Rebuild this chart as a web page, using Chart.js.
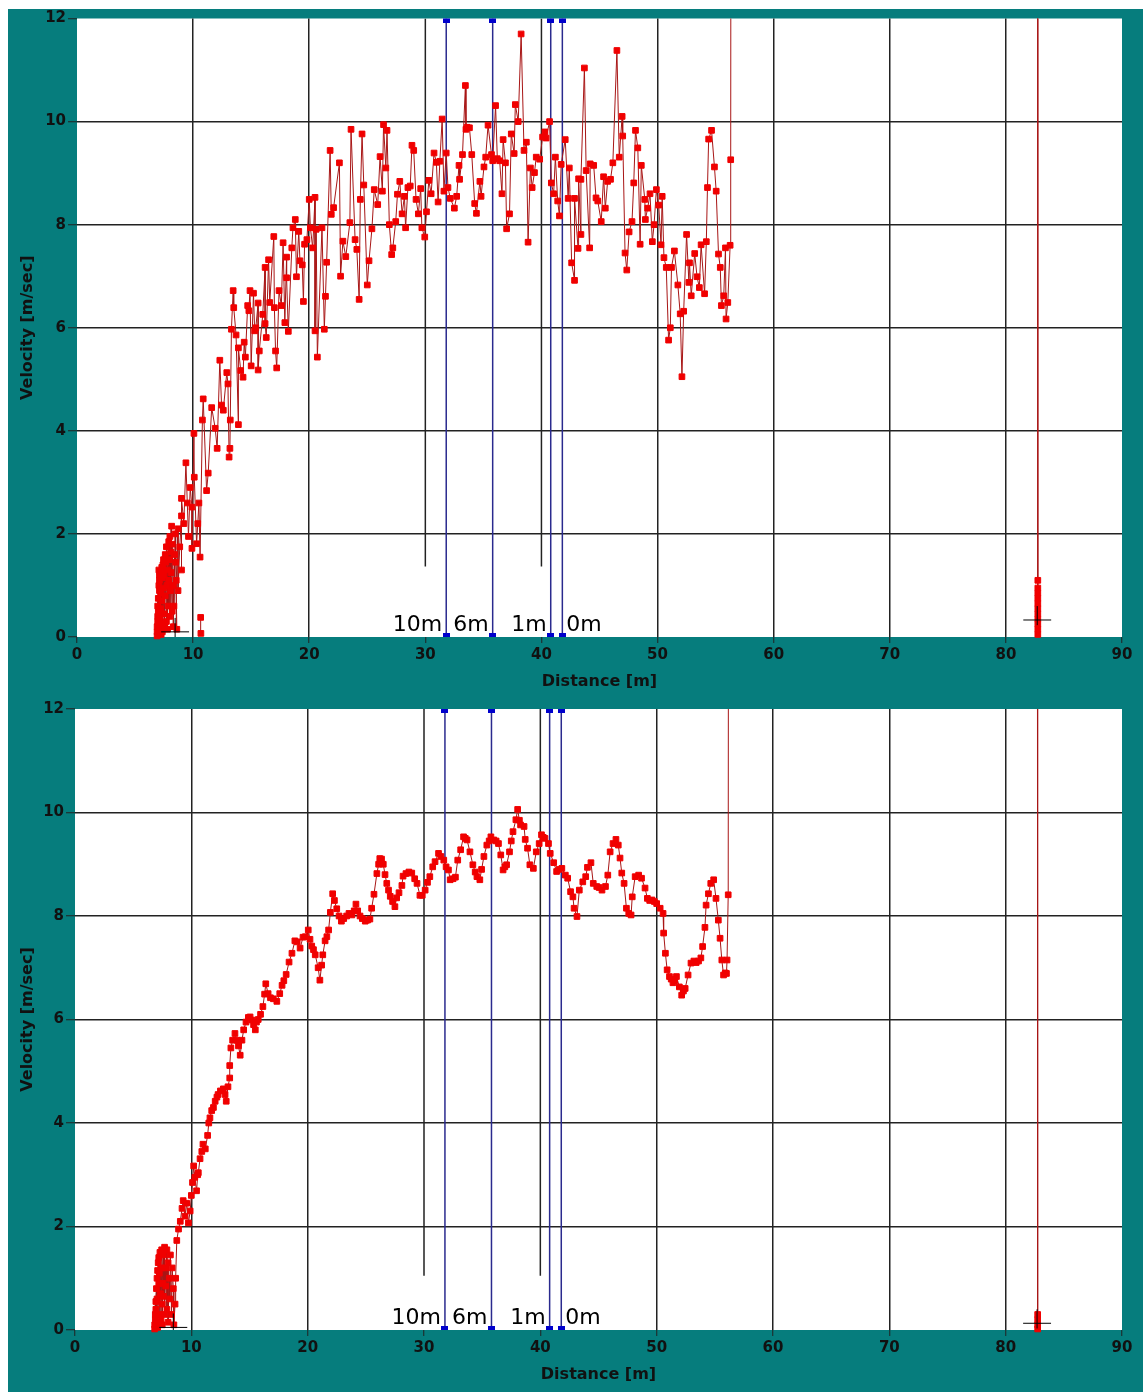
<!DOCTYPE html>
<html>
<head>
<meta charset="utf-8">
<title>Velocity vs distance</title>
<script src="https://cdn.jsdelivr.net/npm/chart.js@4.4.1/dist/chart.umd.min.js"></script>
<style>
    body { margin: 0; background: #fff; width: 1143px; height: 1392px; overflow: hidden; }
    #frame { position: absolute; left: 8px; top: 9px; width: 1135px; height: 1383px; background: #067d7d; }
    #top-chart { position: absolute; left: 0; top: 0; }
    #bottom-chart { position: absolute; left: 0; top: 690px; }
</style>
</head>
<body>
<div id="frame">
    <canvas id="top-chart" width="1135" height="690"></canvas>
    <canvas id="bottom-chart" width="1135" height="693"></canvas>
</div>
<script>
// raw velocity track (upper panel)
const topDist = [6.9, 6.95, 6.9, 7.0, 6.9, 7.0, 6.95, 7.05, 6.95, 7.1, 7.0, 7.1, 7.05, 7.15, 7.1, 7.2, 7.15, 7.25, 7.2, 7.3, 7.25, 7.35, 7.3, 7.4, 7.35, 7.45, 7.4, 7.5, 7.45, 7.55, 7.5, 7.6, 7.6, 7.7, 7.65, 7.75, 7.7, 7.8, 7.8, 7.9, 7.85, 7.95, 7.9, 8.0, 8.0, 8.1, 8.05, 8.15, 8.1, 8.2, 8.2, 8.3, 8.3, 8.4, 8.35, 8.45, 8.5, 8.6, 8.55, 8.7, 8.7, 8.85, 9.0, 9.0, 9.0, 9.2, 9.38, 9.5, 9.6, 9.75, 9.9, 9.9, 10.07, 10.1, 10.3, 10.4, 10.5, 10.6,
    10.8, 10.87, 11.16, 11.3, 11.6, 11.9, 12.07, 12.3, 12.45, 12.6, 12.9, 13.0, 13.1, 13.17, 13.2, 13.3, 13.45, 13.5, 13.7, 13.9, 13.9, 14.1, 14.3, 14.4, 14.5, 14.7, 14.8, 14.9, 15.0, 15.2, 15.3, 15.4, 15.6, 15.6, 15.7, 16.0, 16.2, 16.2, 16.3, 16.5, 16.6, 16.95, 17.0, 17.1, 17.2, 17.4, 17.6, 17.75, 17.9, 18.05, 18.05, 18.2, 18.5, 18.6, 18.8, 18.9, 19.1, 19.2, 19.4, 19.5, 19.6, 19.8,
    20.0, 20.1, 20.3, 20.5, 20.5, 20.6, 20.7, 21.1, 21.3, 21.4, 21.5, 21.8, 21.9, 22.1, 22.6, 22.7, 22.9, 23.15, 23.5, 23.6, 23.95, 24.1, 24.3, 24.4, 24.55, 24.7, 25.0, 25.15, 25.4, 25.6, 25.9, 26.1, 26.3, 26.4, 26.6, 26.7, 26.9, 27.1, 27.2, 27.45, 27.6, 27.8, 28.0, 28.2, 28.3, 28.5, 28.7, 28.85, 29.0, 29.2, 29.4, 29.6, 29.7, 29.95,
    30.1, 30.3, 30.5, 30.75, 30.95, 31.1, 31.25, 31.45, 31.6, 31.8, 31.95, 32.15, 32.5, 32.7, 32.9, 32.95, 33.2, 33.45, 33.5, 33.6, 33.8, 34.0, 34.25, 34.4, 34.7, 34.8, 35.05, 35.2, 35.4, 35.7, 35.8, 36.05, 36.2, 36.4, 36.6, 36.7, 36.9, 37.0, 37.25, 37.4, 37.65, 37.75, 38.0, 38.25, 38.5, 38.7, 38.85, 39.05, 39.2, 39.4, 39.55, 39.85,
    40.1, 40.3, 40.4, 40.7, 40.85, 41.05, 41.2, 41.4, 41.55, 41.7, 42.05, 42.3, 42.4, 42.6, 42.85, 42.85, 43.15, 43.2, 43.4, 43.4, 43.7, 43.85, 44.15, 44.2, 44.5, 44.7, 44.85, 45.15, 45.35, 45.5, 45.7, 45.95, 46.15, 46.5, 46.7, 46.95, 47.0, 47.2, 47.35, 47.55, 47.8, 47.95, 48.1, 48.3, 48.5, 48.6, 48.9, 48.95, 49.15, 49.35, 49.55, 49.7, 49.9,
    50.1, 50.3, 50.4, 50.55, 50.75, 50.95, 51.1, 51.2, 51.45, 51.75, 51.95, 52.1, 52.25, 52.5, 52.7, 52.75, 52.9, 53.2, 53.4, 53.6, 53.75, 54.05, 54.2, 54.3, 54.4, 54.65, 54.9, 55.05, 55.25, 55.4, 55.5, 55.7, 55.85, 55.9, 56.05, 56.25, 56.3,
    56.4, 82.7, 82.75, 82.75, 82.75, 82.75, 82.75, 82.75, 82.75, 82.75, 82.75, 82.75, 82.75];
const topVel = [0.02, 0.3, 0.1, 0.5, 0.2, 0.75, 0.4, 1.0, 0.6, 1.2, 0.15, 0.9, 1.3, 0.35, 1.1, 0.55, 1.25, 0.05, 0.85, 1.35, 0.25, 1.15, 0.7, 1.4, 0.1, 0.95, 1.3, 0.45, 1.5, 0.2, 1.2, 0.8, 1.6, 0.3, 1.45, 1.0, 1.75, 0.15, 1.3, 1.85, 0.6, 1.5, 1.1, 1.95, 0.4, 1.65, 0.9, 2.15, 1.25, 0.5, 1.8, 1.0, 0.2, 1.6, 0.6, 2.0, 1.45, 0.15, 1.1, 2.1, 0.9, 1.75, 2.35, 1.3, 2.69, 2.2, 3.38, 2.6, 1.95, 2.9, 2.52, 1.72, 3.95, 3.1, 1.81, 2.2, 2.6, 1.55,
    4.21, 4.62, 2.84, 3.18, 4.45, 4.05, 3.66, 5.37, 4.5, 4.4, 5.13, 4.91, 3.49, 3.66, 4.21, 5.97, 6.72, 6.39, 5.86, 4.12, 5.61, 5.17, 5.04, 5.72, 5.43, 6.43, 6.33, 6.72, 5.26, 6.67, 5.94, 6.0, 6.48, 5.18, 5.55, 6.26, 7.17, 6.08, 5.81, 7.32, 6.49, 7.77, 6.39, 5.55, 5.22, 6.72, 6.43, 7.65, 6.1, 7.37, 6.97, 5.93, 7.55, 7.94, 8.1, 6.99, 7.87, 7.3, 7.22, 6.51, 7.62, 7.71,
    8.49, 7.94, 7.55, 8.53, 5.94, 7.91, 5.43, 7.94, 5.97, 6.61, 7.27, 9.44, 8.2, 8.33, 9.2, 7.0, 7.68, 7.38, 8.04, 9.85, 7.71, 7.52, 6.55, 8.49, 9.76, 8.77, 6.83, 7.3, 7.92, 8.68, 8.39, 9.32, 8.65, 9.94, 9.1, 9.83, 8.0, 7.42, 7.55, 8.06, 8.59, 8.84, 8.21, 8.55, 7.94, 8.72, 8.75, 9.54, 9.44, 8.49, 8.21, 8.7, 7.94, 7.76,
    8.25, 8.86, 8.6, 9.39, 9.21, 8.44, 9.23, 10.05, 8.65, 9.39, 8.72, 8.51, 8.32, 8.55, 9.15, 8.88, 9.36, 10.7, 9.85, 9.89, 9.88, 9.36, 8.41, 8.22, 8.84, 8.55, 9.12, 9.31, 9.93, 9.36, 9.24, 10.31, 9.28, 9.24, 8.6, 9.65, 9.2, 7.92, 8.21, 9.76, 9.38, 10.33, 10.0, 11.7, 9.44, 9.6, 7.66, 9.1, 8.72, 9.01, 9.31, 9.27,
    9.7, 9.8, 9.68, 10.0, 8.81, 8.6, 9.31, 8.46, 8.17, 9.17, 9.65, 8.51, 9.1, 7.26, 6.92, 8.51, 7.54, 8.89, 7.81, 8.88, 11.04, 9.05, 7.55, 9.18, 9.15, 8.52, 8.46, 8.06, 8.93, 8.32, 8.84, 8.88, 9.2, 11.38, 9.31, 10.1, 9.72, 7.45, 7.12, 7.86, 8.06, 8.81, 9.83, 9.49, 7.62, 9.15, 8.49, 8.1, 8.32, 8.6, 7.67, 8.0, 8.68,
    8.38, 7.61, 8.55, 7.36, 7.17, 5.76, 6.0, 7.17, 7.49, 6.83, 6.27, 5.05, 6.32, 7.81, 6.88, 7.26, 6.62, 7.44, 6.99, 6.78, 7.61, 6.66, 7.67, 8.72, 9.66, 9.83, 9.12, 8.65, 7.43, 7.17, 6.43, 6.62, 7.55, 6.17, 6.49, 7.6, 9.26,
    40, 40, 1.1, 0.95, 0.85, 0.75, 0.65, 0.55, 0.45, 0.35, 0.25, 0.15, 0.05];
// two stray samples near 10.6 m, not joined to the track
const topStrayDist = [10.67, 10.65];
const topStrayVel = [0.07, 0.38];

// smoothed velocity track (lower panel)
const botDist = [6.85, 6.9, 6.85, 6.95, 6.9, 7.0, 6.95, 7.05, 7.0, 7.1, 7.05, 7.15, 7.1, 7.2, 7.2, 7.3, 7.25, 7.35, 7.3, 7.4, 7.4, 7.5, 7.45, 7.55, 7.5, 7.6, 7.6, 7.7, 7.7, 7.8, 7.8, 7.9, 7.9, 8.0, 8.0, 8.1, 8.15, 8.2, 8.3, 8.35, 8.45, 8.5, 8.6, 8.65,
    8.75, 8.9, 9.05, 9.2, 9.3, 9.45, 9.6, 9.75, 9.9, 10.0, 10.1, 10.2, 10.3, 10.45, 10.55, 10.6, 10.75, 10.9, 11.0, 11.2, 11.4, 11.5, 11.6, 11.75, 11.9, 12.05, 12.2, 12.3, 12.5, 12.75, 12.9, 13.0, 13.15, 13.3, 13.3, 13.4, 13.55, 13.75, 13.9, 14.05, 14.2, 14.35, 14.5, 14.7, 14.9, 15.05, 15.2, 15.35, 15.5, 15.6, 15.75, 15.95, 16.15, 16.3, 16.4, 16.6, 16.8, 17.05, 17.35, 17.6, 17.8, 17.95, 18.15, 18.4, 18.65, 18.9, 19.1, 19.35, 19.6, 19.8,
    20.05, 20.2, 20.35, 20.5, 20.65, 20.9, 21.05, 21.2, 21.3, 21.5, 21.65, 21.8, 21.95, 22.15, 22.3, 22.5, 22.7, 22.9, 23.1, 23.35, 23.55, 23.8, 24.0, 24.15, 24.3, 24.5, 24.7, 24.95, 25.15, 25.35, 25.5, 25.7, 25.95, 26.1, 26.2, 26.35, 26.5, 26.65, 26.8, 26.95, 27.1, 27.3, 27.5, 27.65, 27.85, 28.1, 28.2, 28.45, 28.7, 28.95, 29.2, 29.4, 29.65, 29.85,
    30.1, 30.3, 30.5, 30.75, 30.95, 31.25, 31.45, 31.7, 31.9, 32.1, 32.25, 32.5, 32.7, 32.9, 33.15, 33.4, 33.55, 33.7, 33.95, 34.2, 34.4, 34.55, 34.8, 34.95, 35.15, 35.4, 35.6, 35.75, 36.0, 36.2, 36.4, 36.6, 36.8, 36.95, 37.1, 37.35, 37.5, 37.65, 37.9, 38.05, 38.2, 38.3, 38.6, 38.7, 38.9, 39.1, 39.4, 39.65, 39.9,
    40.1, 40.25, 40.4, 40.7, 40.85, 41.15, 41.4, 41.6, 41.85, 42.15, 42.35, 42.6, 42.8, 42.9, 43.15, 43.35, 43.65, 43.9, 44.05, 44.35, 44.55, 44.85, 45.05, 45.3, 45.6, 45.8, 46.0, 46.25, 46.5, 46.7, 46.85, 47.0, 47.2, 47.4, 47.6, 47.8, 47.9, 48.15, 48.45, 48.7, 49.0, 49.2, 49.4, 49.6, 49.8,
    50.0, 50.3, 50.55, 50.6, 50.75, 50.9, 51.1, 51.25, 51.4, 51.55, 51.7, 51.95, 52.15, 52.3, 52.45, 52.7, 52.95, 53.2, 53.4, 53.6, 53.8, 53.95, 54.15, 54.25, 54.45, 54.65, 54.9, 55.1, 55.3, 55.45, 55.6, 55.75, 55.9, 56.0, 56.05, 56.15,
    56.25, 82.7, 82.75, 82.75, 82.75, 82.75];
const botVel = [0.02, 0.3, 0.1, 0.55, 0.2, 0.8, 0.4, 1.0, 0.15, 1.15, 0.6, 1.3, 0.05, 0.9, 1.4, 0.3, 1.1, 0.7, 1.5, 0.2, 1.2, 0.5, 1.55, 0.9, 0.1, 1.45, 0.65, 1.6, 0.3, 1.2, 0.85, 1.55, 0.4, 1.3, 0.15, 1.0, 0.6, 1.45, 0.3, 1.2, 0.8, 0.1, 0.5, 1.0,
    1.73, 1.95, 2.1, 2.35, 2.5, 2.2, 2.45, 2.07, 2.3, 2.6, 2.85, 3.17, 2.95, 2.69, 3.0, 3.04, 3.31, 3.45, 3.59, 3.5, 3.76, 4.0, 4.1, 4.24, 4.3, 4.42, 4.5, 4.55, 4.62, 4.66, 4.55, 4.42, 4.7, 4.87, 5.11, 5.45, 5.6, 5.73, 5.6, 5.49, 5.31, 5.6, 5.8, 5.95, 6.04, 6.05, 5.99, 5.9, 5.8, 5.95, 6.0, 6.1, 6.25, 6.49, 6.69, 6.5, 6.42, 6.4, 6.35, 6.5, 6.66, 6.75, 6.87, 7.11, 7.28, 7.52, 7.5, 7.38, 7.59, 7.6,
    7.73, 7.55, 7.42, 7.35, 7.25, 7.0, 6.76, 7.05, 7.25, 7.52, 7.6, 7.73, 8.07, 8.43, 8.3, 8.14, 8.0, 7.9, 7.95, 8.0, 8.05, 8.02, 8.1, 8.23, 8.1, 8.0, 7.95, 7.9, 7.92, 7.94, 8.15, 8.42, 8.82, 9.0, 9.11, 9.1, 9.0, 8.8, 8.63, 8.5, 8.38, 8.28, 8.18, 8.35, 8.45, 8.59, 8.77, 8.82, 8.85, 8.83, 8.72, 8.63, 8.4, 8.4,
    8.5, 8.65, 8.76, 8.95, 9.05, 9.21, 9.15, 9.08, 8.95, 8.89, 8.7, 8.72, 8.75, 9.08, 9.28, 9.53, 9.5, 9.47, 9.24, 8.99, 8.85, 8.76, 8.7, 8.9, 9.15, 9.37, 9.45, 9.53, 9.47, 9.45, 9.4, 9.18, 8.89, 8.95, 8.99, 9.24, 9.45, 9.63, 9.86, 10.06, 9.85, 9.76, 9.73, 9.48, 9.31, 8.99, 8.92, 9.24, 9.4,
    9.57, 9.52, 9.5, 9.4, 9.21, 9.03, 8.86, 8.9, 8.92, 8.79, 8.73, 8.47, 8.37, 8.15, 7.99, 8.5, 8.66, 8.76, 8.94, 9.03, 8.63, 8.57, 8.55, 8.5, 8.57, 8.79, 9.24, 9.4, 9.48, 9.37, 9.12, 8.83, 8.63, 8.15, 8.05, 8.02, 8.37, 8.76, 8.79, 8.73, 8.54, 8.34, 8.3, 8.31, 8.28,
    8.24, 8.15, 8.05, 7.67, 7.28, 6.96, 6.83, 6.78, 6.71, 6.75, 6.83, 6.63, 6.47, 6.55, 6.6, 6.86, 7.09, 7.13, 7.1, 7.13, 7.19, 7.41, 7.78, 8.21, 8.43, 8.63, 8.7, 8.34, 7.92, 7.57, 7.15, 6.86, 6.9, 6.89, 7.15, 8.41,
    40, 40, 0.3, 0.2, 0.1, 0.02];

// timing gates
const gateNames = ['10m', '6m', '1m', '0m'];
const gateDist = [31.8, 35.8, 40.8, 41.8];

// cursor crosses: [x, y] centres
const topCrosses = [[8.45, 0.1], [82.7, 0.33]];
const botCrosses = [[8.45, 0.05], [82.7, 0.13]];

// the 30 m and 40 m grid lines stop short of the axis
const shortGrid = [30, 40];
const topShortGridFrom = 1.37;
const botShortGridFrom = 1.05;

const FONT = "'DejaVu Sans', sans-serif";
const TEXT = '#111';
const GRID = '#222';

const pts = (xs, ys) => xs.map((x, i) => ({ x: x, y: ys[i] }));

// small blue block drawn at each end of a gate line
const gateTick = document.createElement('canvas');
gateTick.width = 7;
gateTick.height = 8;
const gtx = gateTick.getContext('2d');
gtx.fillStyle = '#0000cc';
gtx.fillRect(0, 0, 7, 8);

const crossPoints = (list) => {
    const out = [];
    list.forEach(([cx, cy]) => {
        out.push({ x: cx - 1.2, y: cy }, { x: cx + 1.2, y: cy }, { x: cx, y: null });
        out.push({ x: cx, y: cy - 0.1 }, { x: cx, y: cy + 0.27 }, { x: cx, y: null });
    });
    return out;
};

const shortGridPoints = (from) => {
    const out = [];
    shortGrid.forEach(v => {
        out.push({ x: v, y: from }, { x: v, y: 12 }, { x: v, y: null });
    });
    return out;
};

const plotBg = {
    id: 'plotBg',
    beforeDraw(chart) {
        const a = chart.chartArea;
        const ctx = chart.ctx;
        ctx.save();
        ctx.fillStyle = '#fff';
        ctx.fillRect(a.left, a.top, a.right - a.left, a.bottom - a.top);
        ctx.restore();
    }
};

const gateText = {
    id: 'gateText',
    afterDatasetsDraw(chart) {
        const xs = chart.scales.x;
        const ys = chart.scales.y;
        const ctx = chart.ctx;
        ctx.save();
        ctx.font = '22px ' + FONT;
        ctx.fillStyle = '#000';
        ctx.textBaseline = 'alphabetic';
        gateNames.forEach((name, i) => {
            const px = xs.getPixelForValue(gateDist[i]);
            const last = i === gateNames.length - 1;
            ctx.textAlign = last ? 'left' : 'right';
            ctx.fillText(name, last ? px + 4 : px - 4, ys.getPixelForValue(0) - 6);
        });
        ctx.restore();
    }
};

const trackStyle = {
    borderColor: '#a81616',
    borderWidth: 1,
    pointStyle: 'rect',
    pointRadius: 4,
    pointBackgroundColor: '#f00000',
    pointBorderColor: '#f00000',
    pointBorderWidth: 1,
    showLine: true,
    clip: { left: 0, top: 0, right: 0, bottom: 3 }
};

function buildChart(id, track, stray, crosses, gridFrom, padTop, yWidth) {
    const datasets = [
        {
            data: crossPoints(crosses),
            borderColor: '#000',
            borderWidth: 1,
            pointRadius: 0,
            showLine: true,
            clip: 0
        },
        Object.assign({ data: track }, trackStyle),
        {
            data: shortGridPoints(gridFrom),
            borderColor: GRID,
            borderWidth: 1.5,
            pointRadius: 0,
            showLine: true,
            clip: 0
        }
    ];
    if (stray) {
        datasets.splice(2, 0, Object.assign({ data: stray }, trackStyle));
    }
    gateDist.forEach(d => {
        datasets.push({
            data: [{ x: d, y: 0 }, { x: d, y: 12 }],
            borderColor: '#2a2a8e',
            borderWidth: 1.5,
            pointStyle: gateTick,
            showLine: true,
            clip: 0
        });
    });

    return new Chart(document.getElementById(id), {
        type: 'scatter',
        data: { datasets: datasets },
        options: {
            responsive: false,
            animation: false,
            events: [],
            layout: { padding: { left: 0, top: padTop, right: 21, bottom: 0 } },
            plugins: {
                legend: { display: false },
                tooltip: { enabled: false }
            },
            scales: {
                x: {
                    type: 'linear',
                    min: 0,
                    max: 90,
                    ticks: {
                        stepSize: 10,
                        color: TEXT,
                        padding: 3,
                        font: { family: FONT, size: 15, weight: 'bold' }
                    },
                    grid: {
                        color: c => (c.tick && [0, 90].concat(shortGrid).includes(c.tick.value)) ? 'rgba(0,0,0,0)' : GRID,
                        lineWidth: 1.5,
                        tickLength: 6,
                        tickColor: GRID,
                        tickWidth: 1
                    },
                    border: { display: false },
                    title: {
                        display: true,
                        text: 'Distance [m]',
                        color: TEXT,
                        padding: { top: 0, bottom: 8 },
                        font: { family: FONT, size: 16, weight: 'bold' }
                    },
                    afterFit: s => { s.height = 62; }
                },
                y: {
                    min: 0,
                    max: 12,
                    ticks: {
                        stepSize: 2,
                        color: TEXT,
                        padding: 2,
                        font: { family: FONT, size: 15, weight: 'bold', lineHeight: 1 }
                    },
                    grid: {
                        color: c => (c.tick && (c.tick.value === 0 || c.tick.value === 12)) ? 'rgba(0,0,0,0)' : GRID,
                        lineWidth: 1.5,
                        tickLength: 9,
                        tickColor: GRID,
                        tickWidth: 1
                    },
                    border: { display: false },
                    title: {
                        display: true,
                        text: 'Velocity [m/sec]',
                        color: TEXT,
                        padding: { top: 10, bottom: 0 },
                        font: { family: FONT, size: 16, weight: 'bold' }
                    },
                    afterFit: s => { s.width = yWidth; }
                }
            }
        },
        plugins: [plotBg, gateText]
    });
}

buildChart('top-chart', pts(topDist, topVel), pts(topStrayDist, topStrayVel), topCrosses, topShortGridFrom, 8, 69);
buildChart('bottom-chart', pts(botDist, botVel), null, botCrosses, botShortGridFrom, 10, 67);
</script>
</body>
</html>
